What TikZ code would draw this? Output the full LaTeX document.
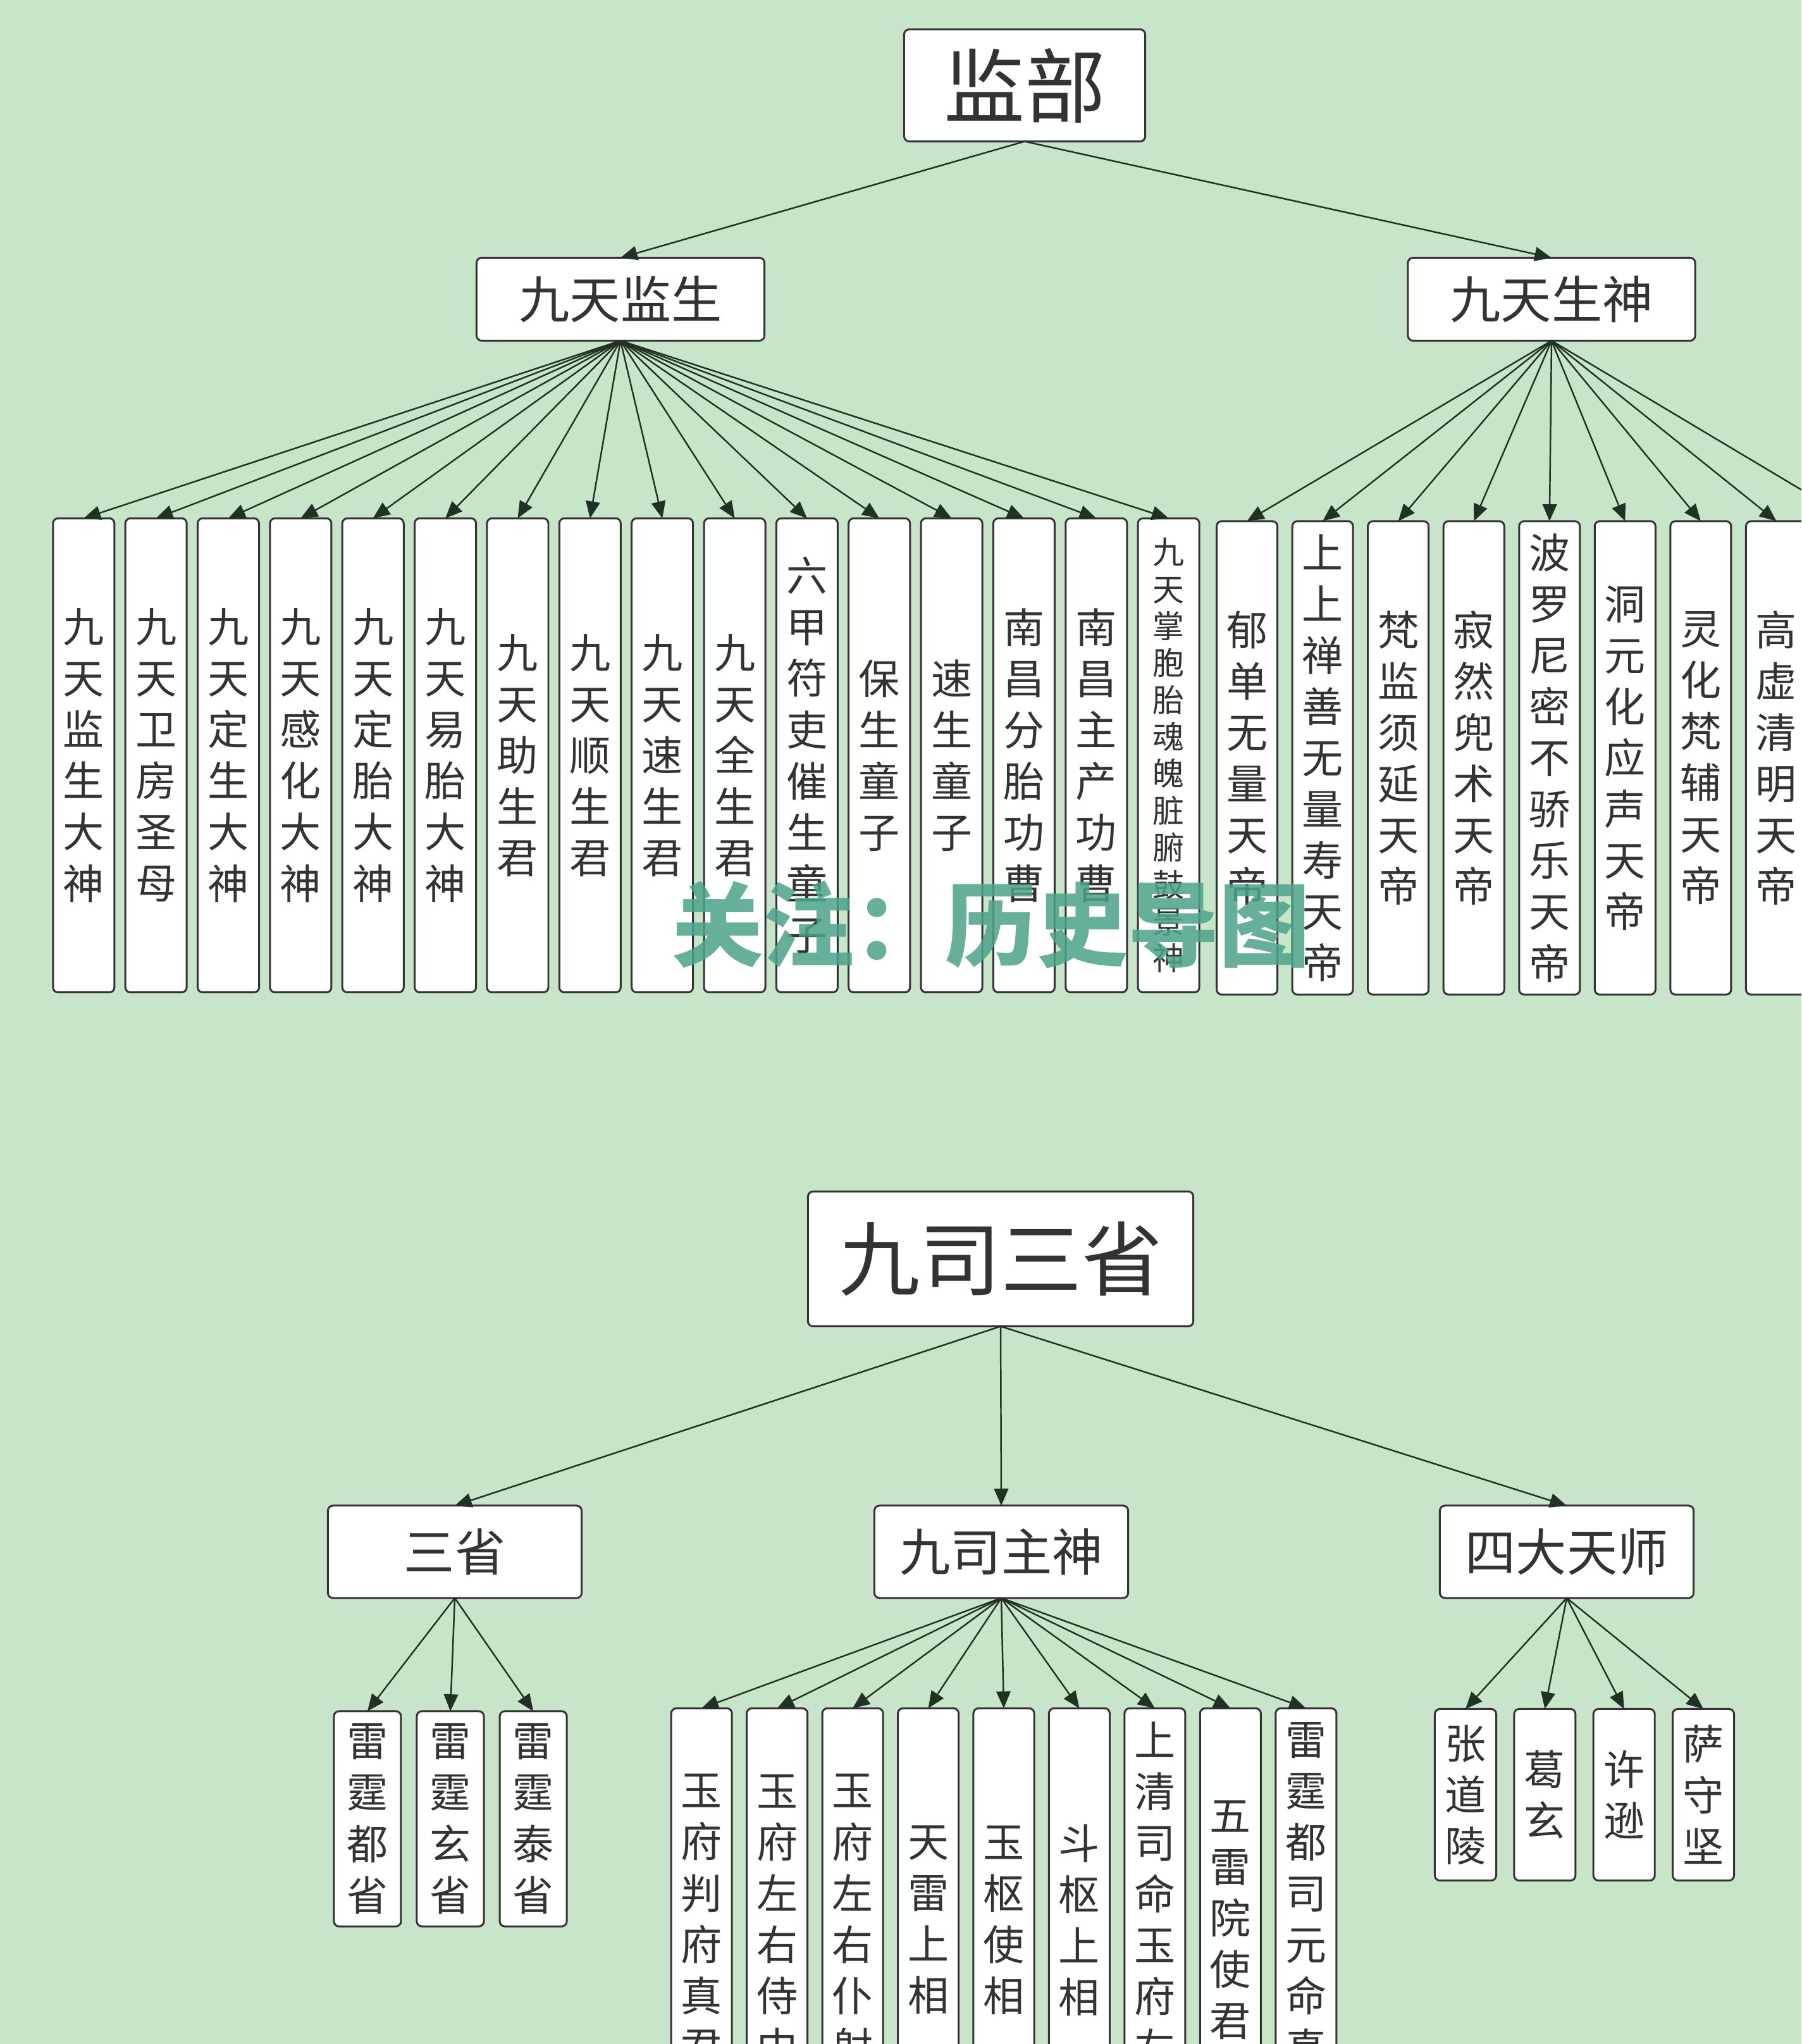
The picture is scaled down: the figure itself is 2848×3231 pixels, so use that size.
\documentclass[tikz,border=0pt]{standalone}
\usepackage{fontspec}
\setmainfont{Noto Sans CJK SC}
\usepackage{xcolor}
\usepackage{tikz}
\usetikzlibrary{arrows.meta}

\definecolor{bgc}{RGB}{200,229,202}
\definecolor{boxc}{RGB}{51,51,51}
\definecolor{linec}{RGB}{33,50,36}
\definecolor{markc}{RGB}{76,163,138}

% one character per line
\newcommand\vt[1]{\vtA#1\vtend}
\def\vtA#1#2\vtend{#1\ifx\relax#2\relax\else\\\vtA#2\vtend\fi}

\begin{document}
\begin{tikzpicture}[
   x=0.01cm,y=-0.01cm,
   every matrix/.style={ampersand replacement=\&},
   box/.style={draw=boxc,fill=white,line width=.85pt,rounded corners=2.3pt,text=boxc,inner sep=0pt,outer sep=0pt},
   big/.style={box,font=\fontsize{36.4}{44}\selectfont},
   mid/.style={box,minimum width=4.01cm,minimum height=1.46cm,font=\fontsize{22.8}{27}\selectfont},
   leaf/.style={box,anchor=center,align=center,minimum width=.97cm,font=\fontsize{18.5}{23.05}\selectfont},
   small/.style={font=\fontsize{14.2}{16.6}\selectfont},
   link/.style={-{Triangle[length=7.6pt,width=6.4pt]},line width=.7pt,color=linec}]
\useasboundingbox (0,0) rectangle (2848,3231);
\fill[bgc] (0,0) rectangle (2848,3231);
\clip (0,0) rectangle (2848,3231);

% 监部
\node[big,minimum width=3.81cm,minimum height=1.77cm] (jb) at (1620,135) {监部};
\node[mid,minimum width=4.55cm,minimum height=1.31cm] (jtjs) at (981,473) {九天监生};
\node[mid,minimum width=4.54cm,minimum height=1.31cm] (jtss) at (2453,473) {九天生神};
\matrix[column sep=.143cm,nodes={leaf,minimum height=7.49cm}] at (990,1194) {
\node (js1) {\vt{九天监生大神}}; \& \node (js2) {\vt{九天卫房圣母}}; \&
\node (js3) {\vt{九天定生大神}}; \& \node (js4) {\vt{九天感化大神}}; \&
\node (js5) {\vt{九天定胎大神}}; \& \node (js6) {\vt{九天易胎大神}}; \&
\node (js7) {\vt{九天助生君}}; \& \node (js8) {\vt{九天顺生君}}; \&
\node (js9) {\vt{九天速生君}}; \& \node (js10) {\vt{九天全生君}}; \&
\node (js11) {\vt{六甲符吏催生童子}}; \& \node (js12) {\vt{保生童子}}; \&
\node (js13) {\vt{速生童子}}; \& \node (js14) {\vt{南昌分胎功曹}}; \&
\node (js15) {\vt{南昌主产功曹}}; \& \node[small] (js16) {\vt{九天掌胞胎魂魄脏腑鼓景神}}; \\
};
\matrix[column sep=.205cm,nodes={leaf,minimum width=.96cm,minimum height=7.48cm}] at (2390,1198) {
\node (ss1) {\vt{郁单无量天帝}}; \& \node (ss2) {\vt{上上禅善无量寿天帝}}; \&
\node (ss3) {\vt{梵监须延天帝}}; \& \node (ss4) {\vt{寂然兜术天帝}}; \&
\node (ss5) {\vt{波罗尼密不骄乐天帝}}; \& \node (ss6) {\vt{洞元化应声天帝}}; \&
\node (ss7) {\vt{灵化梵辅天帝}}; \& \node (ss8) {\vt{高虚清明天帝}}; \\
};
\coordinate (ss9) at (2928,822);

% 九司三省
\node[big,minimum width=6.09cm,minimum height=2.13cm] (jssx) at (1582,1990) {九司三省};
\node[mid] (sx) at (719,2453) {三省};
\node[mid] (zs) at (1583,2453) {九司主神};
\node[mid] (ts) at (2477,2453) {四大天师};
\matrix[column sep=.22cm,nodes={leaf,minimum width=1.06cm,minimum height=3.40cm}] at (712,2875) {
\node (sx1) {\vt{雷霆都省}}; \& \node (sx2) {\vt{雷霆玄省}}; \& \node (sx3) {\vt{雷霆泰省}}; \\
};
\matrix[column sep=.204cm,nodes={leaf,minimum width=.96cm,minimum height=6.69cm}] at (1587,3035) {
\node (zs1) {\vt{玉府判府真君}}; \& \node (zs2) {\vt{玉府左右侍中}}; \&
\node (zs3) {\vt{玉府左右仆射}}; \& \node (zs4) {\vt{天雷上相}}; \&
\node (zs5) {\vt{玉枢使相}}; \& \node (zs6) {\vt{斗枢上相}}; \&
\node (zs7) {\vt{上清司命玉府左卿}}; \& \node (zs8) {\vt{五雷院使君}}; \&
\node (zs9) {\vt{雷霆都司元命真君}}; \\
};
\matrix[column sep=.253cm,nodes={leaf,minimum height=2.71cm}] at (2505,2837) {
\node (ts1) {\vt{张道陵}}; \& \node (ts2) {\vt{葛玄}}; \& \node (ts3) {\vt{许逊}}; \& \node (ts4) {\vt{萨守坚}}; \\
};

\path[link] (jb.south) edge (jtjs.north) edge (jtss.north);
\path[link] (jtjs.south) edge (js1.north) edge (js2.north) edge (js3.north) edge (js4.north)
   edge (js5.north) edge (js6.north) edge (js7.north) edge (js8.north)
   edge (js9.north) edge (js10.north) edge (js11.north) edge (js12.north)
   edge (js13.north) edge (js14.north) edge (js15.north) edge (js16.north);
\path[link] (jtss.south) edge (ss1.north) edge (ss2.north) edge (ss3.north) edge (ss4.north)
   edge (ss5.north) edge (ss6.north) edge (ss7.north) edge (ss8.north) edge (ss9);
\path[link] (jssx.south) edge (sx.north) edge (zs.north) edge (ts.north);
\path[link] (sx.south) edge (sx1.north) edge (sx2.north) edge (sx3.north);
\path[link] (zs.south) edge (zs1.north) edge (zs2.north) edge (zs3.north) edge (zs4.north)
   edge (zs5.north) edge (zs6.north) edge (zs7.north) edge (zs8.north) edge (zs9.north);
\path[link] (ts.south) edge (ts1.north) edge (ts2.north) edge (ts3.north) edge (ts4.north);

\node[text=markc,opacity=.85,font=\fontsize{41}{41}\selectfont\bfseries] (mark) at (1567,1462) {关注：历史导图};
\end{tikzpicture}
\end{document}
